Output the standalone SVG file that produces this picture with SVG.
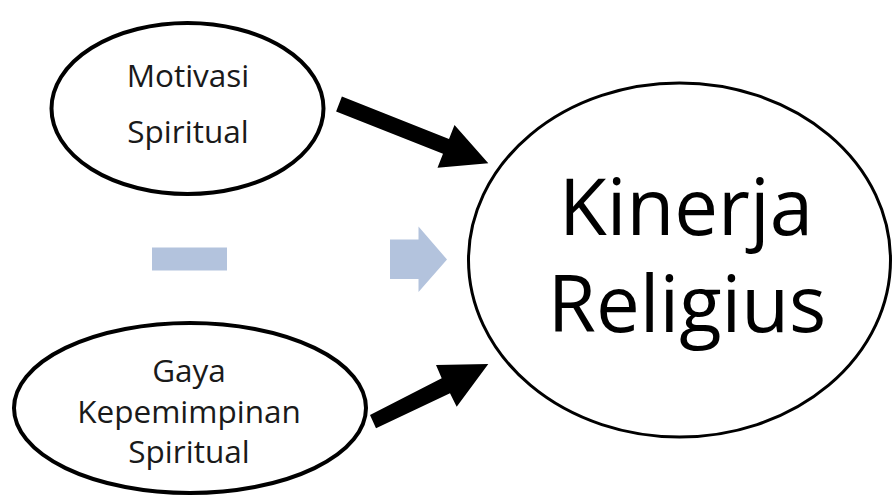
<svg xmlns="http://www.w3.org/2000/svg" width="893" height="497" viewBox="0 0 893 497">
<style>
.node{fill:#fff;stroke:#000;}
.lbl{font-family:"Open Sans","Noto Sans",sans-serif;fill:#1a1a1a;text-anchor:middle;font-size:31.5px;}
.big{font-family:"Open Sans","Noto Sans",sans-serif;fill:#000;text-anchor:middle;font-size:78px;}
.blue{fill:#b3c3dd;}
.arrow{fill:#000;}
</style>
<rect width="893" height="497" fill="#fff"/>
<g id="motivasi">
<ellipse class="node" cx="187.5" cy="108.5" rx="136" ry="85.5" stroke-width="4"/>
<text class="lbl" x="188" y="87">Motivasi</text>
<text class="lbl" x="188" y="143">Spiritual</text>
</g>
<g id="gaya">
<ellipse class="node" cx="190" cy="408" rx="176" ry="85" stroke-width="4"/>
<text class="lbl" x="189" y="382">Gaya</text>
<text class="lbl" x="189" y="423">Kepemimpinan</text>
<text class="lbl" x="189" y="463">Spiritual</text>
</g>
<g id="kinerja">
<ellipse class="node" cx="679.5" cy="260" rx="211" ry="177" stroke-width="3"/>
<text class="big" x="686" y="235">Kinerja</text>
<text class="big" x="687" y="332">Religius</text>
</g>
<g id="decor">
<rect class="blue" x="152" y="247.5" width="75" height="23"/>
<polygon class="blue" points="390,239.5 418.5,239.5 418.5,226.5 447,259.5 418.5,292 418.5,279 390,279"/>
</g>
<g id="connectors">
<polygon class="arrow" points="341.9,96.6 449,138.9 454.5,124.9 488.3,163.3 437.5,167.7 443,153.7 336.1,111.4"/>
<polygon class="arrow" points="370,415 441.7,378.3 436,365 488.3,364 456.7,406.7 450,393.3 376,428.3"/>
</g>
</svg>
